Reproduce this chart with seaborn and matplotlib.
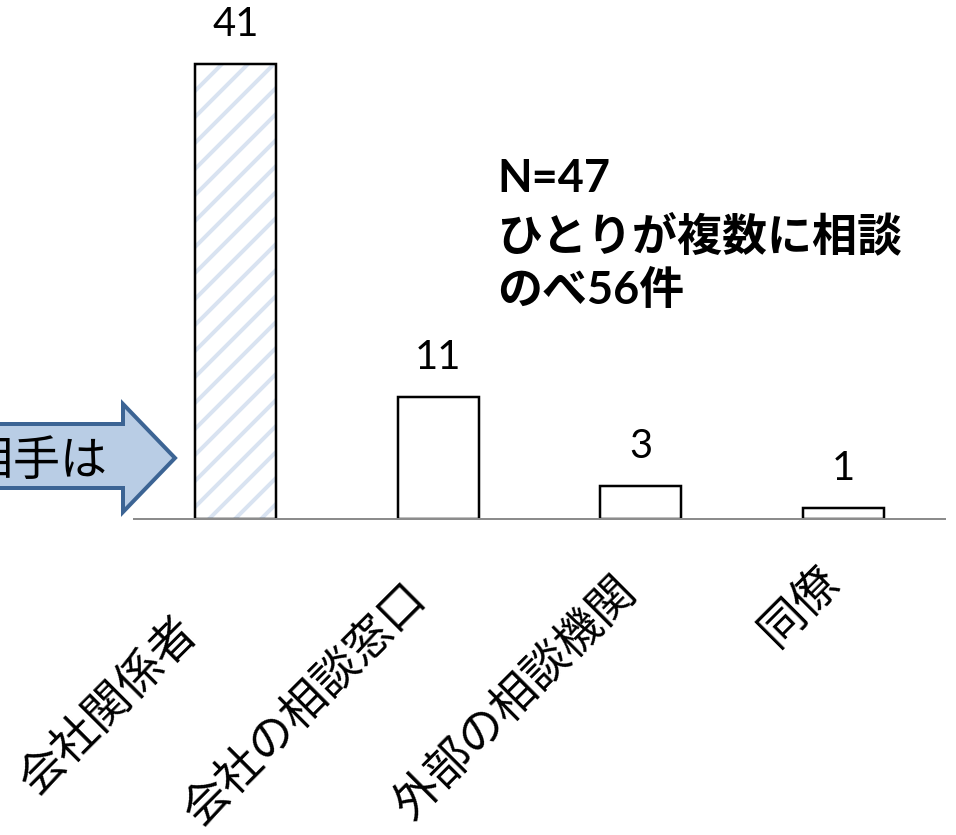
import matplotlib
matplotlib.use("Agg")
import pandas as pd
import seaborn as sns
import matplotlib.pyplot as plt
from matplotlib.patches import Polygon, Rectangle
from matplotlib.transforms import ScaledTranslation

# ---- data ----
categories = ["会社関係者", "会社の相談窓口", "外部の相談機関", "同僚"]
counts = [41, 11, 3, 1]
note_lines = ["N=47", "ひとりが複数に相談", "のべ56件"]
arrow_label = "相談相手は"

# ---- canvas (sizes below are given in pixels and converted to points) ----
DPI = 78
W, H = 956, 836


def pt(px):
    return px * 72 / DPI


sns.set_theme(style="white")
plt.rcParams["font.family"] = ["Lato", "Noto Sans CJK JP", "DejaVu Sans"]
plt.rcParams["hatch.linewidth"] = pt(4)

fig = plt.figure(figsize=(W / DPI, H / DPI), dpi=DPI)
fig.patch.set_facecolor("white")
ax = fig.add_axes([134 / W, (H - 520) / H, 811 / W, 499.4 / H])
ax.set_facecolor("white")

df = pd.DataFrame({"category": categories, "count": counts})
sns.barplot(data=df, x="category", y="count", ax=ax, width=0.4,
            color="white", saturation=1, edgecolor="black",
            linewidth=pt(2.5))

# diagonal light-blue stripes inside the first bar
first = ax.patches[0]
first.set_facecolor("none")
stripes = Rectangle((first.get_x(), first.get_y()), first.get_width(),
                    first.get_height(), facecolor="white",
                    edgecolor="#d9e3f1", hatch="/", linewidth=0,
                    zorder=first.get_zorder() - 0.5)
ax.add_patch(stripes)

ax.bar_label(ax.containers[0], labels=[str(v) for v in counts],
             padding=pt(22), fontsize=pt(40), color="black")

ax.set_xlim(-0.5, len(categories) - 0.5)
ax.set_ylim(0, 45)
ax.set_yticks([])
ax.set_xlabel("")
ax.set_ylabel("")
sns.despine(ax=ax, left=True)
ax.spines["bottom"].set_color("#8c8c8c")
ax.spines["bottom"].set_linewidth(pt(2))

ax.tick_params(axis="x", length=0, pad=0)
ax.set_xticks(range(len(categories)))
ax.set_xticklabels(categories, rotation=45, ha="right", va="center",
                   rotation_mode="anchor", fontsize=pt(46),
                   family=["Noto Sans CJK JP"], color="black")
label_shift = [(-46, 105), (-19, 71), (-12, 64), (-11, 54)]
for lab, (dx, dy) in zip(ax.get_xticklabels(), label_shift):
    lab.set_transform(lab.get_transform() +
                      ScaledTranslation(dx / DPI, -dy / DPI,
                                        fig.dpi_scale_trans))

# block arrow entering from the left edge
arrow_px = [(-60, 425), (123, 425), (123, 405), (175, 459),
            (123, 513), (123, 489), (-60, 489)]
arrow = Polygon([(x / W, 1 - y / H) for x, y in arrow_px], closed=True,
                transform=fig.transFigure, facecolor="#b9cde5",
                edgecolor="#3c6494", linewidth=pt(4), joinstyle="miter",
                clip_on=False)
fig.add_artist(arrow)
fig.text(108 / W, 1 - 462 / H, arrow_label, ha="right", va="center",
         fontsize=pt(47), family=["Noto Sans CJK JP"], color="black")

# note block
note_y = [192, 250, 304]
for line, y in zip(note_lines, note_y):
    fig.text(497 / W, 1 - y / H, line, ha="left", va="baseline",
             fontsize=pt(45), fontweight="bold", color="black",
             family=["Lato", "Noto Sans CJK JP"])

fig.savefig("out.png", dpi=DPI, facecolor="white")
